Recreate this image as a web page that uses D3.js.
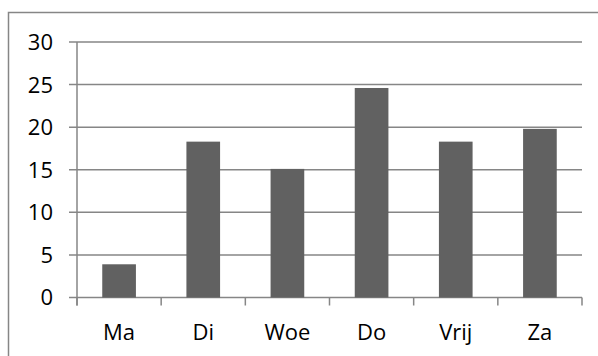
<!DOCTYPE html>
<html>
<head>
<meta charset="utf-8">
<script src="https://cdn.jsdelivr.net/npm/d3@7"></script>
<style>
  html, body { margin: 0; padding: 0; background: #fff; }
  svg { display: block; }
  text { font-family: "Open Sans", Lato, "Liberation Sans", sans-serif; fill: #000; }
</style>
</head>
<body>
<svg id="chart" width="598" height="356"></svg>
<script>
// Weekly values per day
const days = ["Ma", "Di", "Woe", "Do", "Vrij", "Za"];
const values = [3.9, 18.3, 15.1, 24.6, 18.3, 19.8];
const yTicks = [0, 5, 10, 15, 20, 25, 30];

(function draw() {
  const svg = d3.select("#chart");
  const W = 598, H = 356;
  const plotLeft = 77, plotRight = 582, plotTop = 42, plotBottom = 297.5;
  const lineColor = "#868686";

  // Outer chart frame (left and top edges visible)
  svg.append("path")
    .attr("d", `M8.5,${H} L8.5,12.5 L${W},12.5`)
    .attr("fill", "none")
    .attr("stroke", lineColor)
    .attr("stroke-width", 1.5);

  const x = d3.scaleBand().domain(days).range([plotLeft, plotRight]).paddingInner(0.6).paddingOuter(0.3);
  const xEdge = d3.scaleLinear().domain([0, days.length]).range([plotLeft, plotRight]);
  const y = d3.scaleLinear().domain([0, 30]).range([plotBottom, plotTop]);

  // Horizontal gridlines with small ticks to the left of the axis
  svg.append("g").selectAll("line")
    .data(yTicks)
    .join("line")
    .attr("x1", plotLeft - 8).attr("x2", plotRight)
    .attr("y1", d => y(d)).attr("y2", d => y(d))
    .attr("stroke", lineColor)
    .attr("stroke-width", 1.5);

  // Y axis line
  svg.append("line")
    .attr("x1", plotLeft).attr("x2", plotLeft)
    .attr("y1", plotTop).attr("y2", plotBottom + 8)
    .attr("stroke", lineColor).attr("stroke-width", 1.5);

  // Category boundary ticks below the baseline
  svg.append("g").selectAll("line")
    .data(d3.range(days.length + 1))
    .join("line")
    .attr("x1", d => xEdge(d)).attr("x2", d => xEdge(d))
    .attr("y1", plotBottom).attr("y2", plotBottom + 8)
    .attr("stroke", lineColor).attr("stroke-width", 1.5);

  // Bars
  svg.append("g").selectAll("rect")
    .data(days.map((d, i) => ({ day: d, v: values[i] })))
    .join("rect")
    .attr("x", d => x(d.day))
    .attr("width", x.bandwidth())
    .attr("y", d => y(d.v))
    .attr("height", d => y(0) - y(d.v))
    .attr("fill", "#616161");

  // Y tick labels
  svg.append("g").selectAll("text")
    .data(yTicks)
    .join("text")
    .attr("x", 53)
    .attr("y", d => y(d))
    .attr("dy", "0.36em")
    .attr("text-anchor", "end")
    .attr("font-size", 22)
    .text(d => d);

  // Category labels
  svg.append("g").selectAll("text")
    .data(days)
    .join("text")
    .attr("x", d => x(d) + x.bandwidth() / 2)
    .attr("y", 340)
    .attr("text-anchor", "middle")
    .attr("font-size", 22)
    .text(d => d);
})();
</script>
</body>
</html>
